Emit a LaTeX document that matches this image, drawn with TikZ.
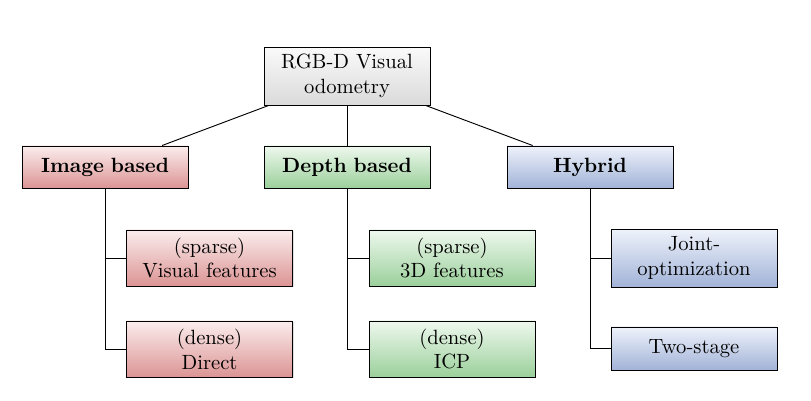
\documentclass[tikz,border=0pt]{standalone}
\usetikzlibrary{shadows}
\definecolor{rbot}{HTML}{DC9494}
\definecolor{rtop}{HTML}{FBEDED}
\definecolor{gbot}{HTML}{9BD09B}
\definecolor{gtop}{HTML}{EEF8EE}
\definecolor{bbot}{HTML}{A2B3D8}
\definecolor{btop}{HTML}{EEF2FA}
\definecolor{kbot}{HTML}{DADADA}
\definecolor{ktop}{HTML}{FAFAFA}
\tikzset{
  box/.style={draw=black, line width=0.45pt, align=center, inner sep=2pt,
    minimum width=80.5pt, text width=76pt,
    drop shadow={shadow xshift=0.6pt, shadow yshift=-0.6pt, opacity=0.25}},
  redbox/.style={box, top color=rtop, bottom color=rbot},
  greenbox/.style={box, top color=gtop, bottom color=gbot},
  bluebox/.style={box, top color=btop, bottom color=bbot},
  graybox/.style={box, top color=ktop, bottom color=kbot},
  link/.style={draw=black, line width=0.45pt},
  h1/.style={minimum height=20.4pt, font=\bfseries},
  h2/.style={minimum height=27.2pt},
}
\begin{document}
\begin{tikzpicture}[x=0.485pt,y=-0.485pt]
\useasboundingbox (0,0) rectangle (811,400);
\node[graybox, minimum height=28.1pt] (root) at (347,76) {RGB-D Visual\\odometry};
\node[redbox, h1] (img) at (105,167) {Image based};
\node[greenbox, h1] (dep) at (347,167) {Depth based};
\node[bluebox, h1] (hyb) at (590,167) {Hybrid};
\node[redbox, h2] (s1) at (209.5,258) {(sparse)\\Visual features};
\node[redbox, h2] (d1) at (209.5,349) {(dense)\\Direct};
\node[greenbox, h2] (s2) at (452,258) {(sparse)\\3D features};
\node[greenbox, h2] (d2) at (452,349) {(dense)\\ICP};
\node[bluebox, minimum height=28.1pt] (jo) at (694,258) {Joint-\\optimization};
\node[bluebox, minimum height=20.9pt] (ts) at (694,348.5) {Two-stage};
\draw[link] (root) -- (img);
\draw[link] (root) -- (dep);
\draw[link] (root) -- (hyb);
\draw[link] (img.south) |- (s1.west);
\draw[link] (img.south) |- (d1.west);
\draw[link] (dep.south) |- (s2.west);
\draw[link] (dep.south) |- (d2.west);
\draw[link] (hyb.south) |- (jo.west);
\draw[link] (hyb.south) |- (ts.west);
\end{tikzpicture}
\end{document}
